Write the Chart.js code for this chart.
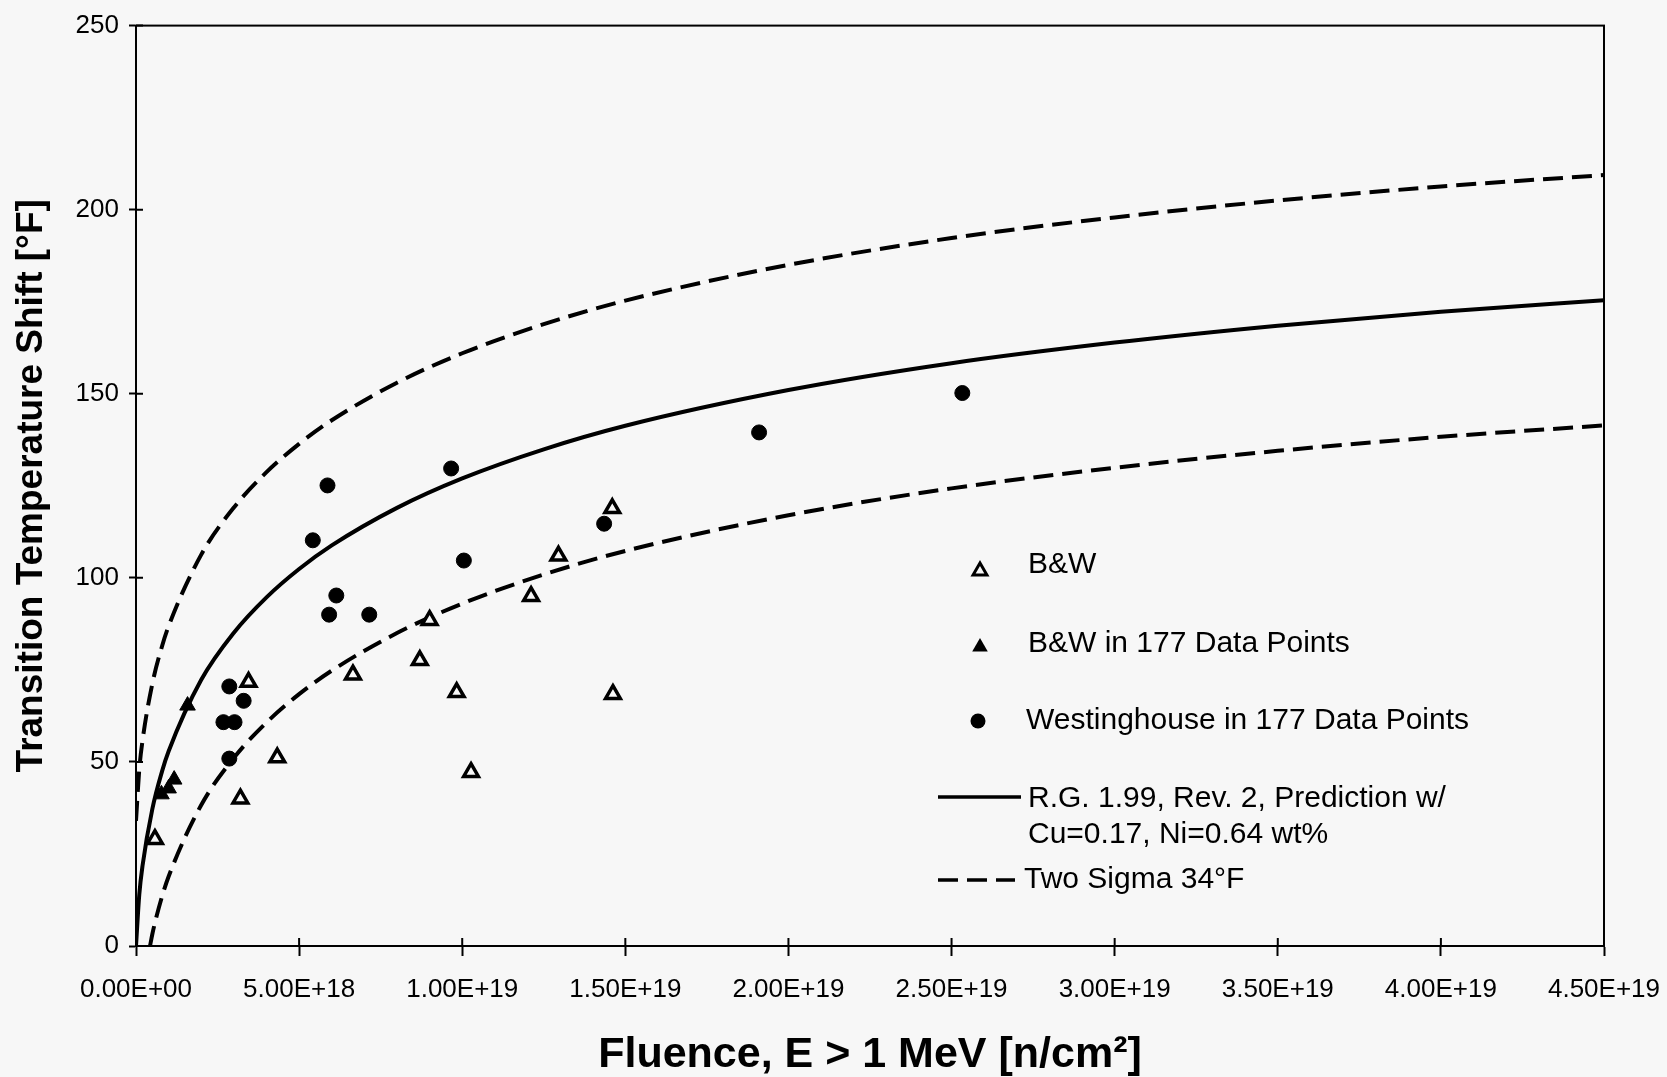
<!DOCTYPE html>
<html>
<head>
<meta charset="utf-8">
<title>Transition Temperature Shift vs Fluence</title>
<script src="https://cdn.jsdelivr.net/npm/chart.js@4.4.1/dist/chart.umd.min.js"></script>
<style>
  html, body { margin: 0; padding: 0; background: #f7f7f7; }
  #wrap { width: 1667px; height: 1077px; }
</style>
</head>
<body>
<div id="wrap"><canvas id="shiftChart" width="1667" height="1077"></canvas></div>
<script>
// fluence in units of 1E+18 n/cm^2, shift in degF
const bwFluence = [0.58, 3.2, 3.45, 4.33, 6.65, 8.7, 9.0, 9.83, 10.27, 12.11, 12.95, 14.6, 14.62];
const bwShift   = [29.0, 40.0, 71.7, 51.2, 73.7, 77.6, 88.5, 68.9, 47.2, 95.0, 106.0, 118.9, 68.4];

const bw177Fluence = [0.78, 1.0, 1.17, 1.58];
const bw177Shift   = [41.2, 42.8, 45.2, 65.3];

const westFluence = [2.68, 3.02, 2.86, 3.3, 2.86, 5.42, 5.87, 5.92, 6.14, 7.15, 9.66, 10.05, 14.35, 19.1, 25.33];
const westShift   = [60.8, 60.8, 70.5, 66.6, 50.9, 110.2, 125.1, 90.0, 95.2, 90.0, 129.7, 104.7, 114.7, 139.5, 150.2];

// RG 1.99 Rev. 2 trend and the +/- two sigma band
const curveFluence = [0, 0.1, 0.2, 0.5, 0.8, 1, 2, 3, 4, 5, 6, 8, 10, 12.5, 15, 20, 25, 30, 35, 40, 45];
const predShift    = [0, 13.9, 21.8, 37.2, 47.5, 52.9, 72.3, 85.1, 94.7, 102.4, 108.8, 119.0, 127.0, 134.9, 141.3, 151.0, 158.3, 163.9, 168.5, 172.3, 175.4];
const upperShift   = [34, 47.9, 55.8, 71.2, 81.5, 86.9, 106.3, 119.1, 128.7, 136.4, 142.8, 153.0, 161.0, 168.9, 175.3, 185.0, 192.3, 197.9, 202.5, 206.3, 209.4];
const lowerFluence = [0.43, 0.5, 0.6, 0.8, 1, 2, 3, 4, 5, 6, 8, 10, 12.5, 15, 20, 25, 30, 35, 40, 45];
const lowerShift   = [0, 3.2, 7.0, 13.5, 18.9, 38.3, 51.1, 60.7, 68.4, 74.8, 85.0, 93.0, 100.9, 107.3, 117.0, 124.3, 129.9, 134.5, 138.3, 141.4];

const seriesNames = ['B&W', 'B&W in 177 Data Points', 'Westinghouse in 177 Data Points',
  ['R.G. 1.99, Rev. 2, Prediction w/', 'Cu=0.17, Ni=0.64 wt%'], 'Two Sigma 34°F'];

const FONT = '"Liberation Sans", Arial, Helvetica, sans-serif';
const BG = '#f7f7f7';
const DASH = [20, 9];

const pts = (xs, ys) => xs.map((x, i) => ({x: x, y: ys[i]}));

// 5 -> "5.00E+18"
function sci(v) {
  if (v === 0) return '0.00E+00';
  const parts = (v * 1e18).toExponential(2).split('e');
  const e = parts[1];
  return parts[0] + 'E' + e[0] + e.slice(1).padStart(2, '0');
}

function tri(ctx, x, y, r) {
  ctx.beginPath();
  ctx.moveTo(x, y - r);
  ctx.lineTo(x + r * 0.866, y + r / 2);
  ctx.lineTo(x - r * 0.866, y + r / 2);
  ctx.closePath();
}

// page background
const paintBg = {
  id: 'paintBg',
  beforeDraw(chart) {
    const ctx = chart.ctx;
    ctx.save();
    ctx.fillStyle = BG;
    ctx.fillRect(0, 0, chart.width, chart.height);
    ctx.restore();
  }
};

// box round the plot plus tick marks on the inside of the axes
const frame = {
  id: 'frame',
  afterDatasetsDraw(chart) {
    const {ctx, chartArea: a, scales: {x, y}} = chart;
    ctx.save();
    ctx.strokeStyle = '#000';
    ctx.lineWidth = 2;
    ctx.strokeRect(a.left, a.top, a.right - a.left, a.bottom - a.top);
    ctx.beginPath();
    x.ticks.forEach(t => {
      const px = x.getPixelForValue(t.value);
      ctx.moveTo(px, a.bottom);
      ctx.lineTo(px, a.bottom - 8);
    });
    y.ticks.forEach(t => {
      const py = y.getPixelForValue(t.value);
      ctx.moveTo(a.left, py);
      ctx.lineTo(a.left + 7, py);
    });
    ctx.stroke();
    ctx.restore();
  }
};

// legend sits inside the plot, lower right
const keyBox = {
  id: 'keyBox',
  afterDraw(chart) {
    const ctx = chart.ctx;
    ctx.save();
    ctx.fillStyle = '#000';
    ctx.strokeStyle = '#000';
    ctx.font = '30px ' + FONT;
    ctx.textBaseline = 'middle';
    ctx.textAlign = 'left';

    // open triangle
    tri(ctx, 980, 571, 8);
    ctx.fillStyle = BG; ctx.fill();
    ctx.lineWidth = 3; ctx.stroke();
    ctx.fillStyle = '#000';
    ctx.fillText(seriesNames[0], 1028, 565);

    // filled triangle
    tri(ctx, 980, 647, 9);
    ctx.fill();
    ctx.fillText(seriesNames[1], 1028, 644);

    // circle
    ctx.beginPath();
    ctx.arc(978, 721, 7.5, 0, Math.PI * 2);
    ctx.fill();
    ctx.fillText(seriesNames[2], 1026, 721);

    // solid line
    ctx.lineWidth = 3.5;
    ctx.beginPath();
    ctx.moveTo(938, 797); ctx.lineTo(1021, 797);
    ctx.stroke();
    ctx.fillText(seriesNames[3][0], 1028, 799);
    ctx.fillText(seriesNames[3][1], 1028, 835);

    // dashed line
    ctx.setLineDash(DASH);
    ctx.beginPath();
    ctx.moveTo(938, 880); ctx.lineTo(1015, 880);
    ctx.stroke();
    ctx.setLineDash([]);
    ctx.fillText(seriesNames[4], 1024, 880);
    ctx.restore();
  }
};

function createChart() {
  const ctx = document.getElementById('shiftChart').getContext('2d');
  new Chart(ctx, {
    type: 'scatter',
    data: {
      datasets: [
        {
          label: seriesNames[0],
          data: pts(bwFluence, bwShift),
          pointStyle: 'triangle',
          pointRadius: 8.5,
          backgroundColor: BG,
          borderColor: '#000',
          borderWidth: 3.5
        },
        {
          label: seriesNames[1],
          data: pts(bw177Fluence, bw177Shift),
          pointStyle: 'triangle',
          pointRadius: 9,
          backgroundColor: '#000',
          borderColor: '#000',
          borderWidth: 1
        },
        {
          label: seriesNames[2],
          data: pts(westFluence, westShift),
          pointStyle: 'circle',
          pointRadius: 7.5,
          backgroundColor: '#000',
          borderColor: '#000',
          borderWidth: 1
        },
        {
          label: seriesNames[3].join(' '),
          data: pts(curveFluence, predShift),
          showLine: true,
          pointRadius: 0,
          borderColor: '#000',
          borderWidth: 4,
          cubicInterpolationMode: 'monotone'
        },
        {
          label: seriesNames[4],
          data: pts(curveFluence, upperShift),
          showLine: true,
          pointRadius: 0,
          borderColor: '#000',
          borderWidth: 4,
          borderDash: DASH,
          cubicInterpolationMode: 'monotone'
        },
        {
          label: seriesNames[4] + ' (lower)',
          data: pts(lowerFluence, lowerShift),
          showLine: true,
          pointRadius: 0,
          borderColor: '#000',
          borderWidth: 4,
          borderDash: DASH,
          cubicInterpolationMode: 'monotone'
        }
      ]
    },
    options: {
      responsive: false,
      animation: false,
      layout: {padding: {top: 22, right: 63, left: 0, bottom: 0}},
      plugins: {legend: {display: false}, tooltip: {enabled: false}},
      scales: {
        x: {
          type: 'linear',
          min: 0,
          max: 45,
          ticks: {
            stepSize: 5,
            autoSkip: false,
            maxRotation: 0,
            padding: 18,
            color: '#000',
            font: {family: FONT, size: 26},
            callback: v => sci(v)
          },
          grid: {drawOnChartArea: false, tickLength: 10, tickColor: '#000', tickWidth: 2},
          border: {display: true, color: '#000', width: 2},
          title: {
            display: true,
            text: 'Fluence, E > 1 MeV [n/cm²]',
            color: '#000',
            font: {family: FONT, size: 43, weight: 'bold', lineHeight: 1},
            padding: {top: 0, bottom: 0}
          },
          // last tick label may run into the page margin
          afterFit(scale) { scale.height = 131; scale.paddingRight = 0; }
        },
        y: {
          min: 0,
          max: 250,
          ticks: {
            stepSize: 50,
            padding: 10,
            color: '#000',
            font: {family: FONT, size: 26}
          },
          grid: {drawOnChartArea: false, tickLength: 7, tickColor: '#000', tickWidth: 2},
          border: {display: true, color: '#000', width: 2},
          title: {
            display: true,
            text: 'Transition Temperature Shift [°F]',
            color: '#000',
            font: {family: FONT, size: 37, weight: 'bold', lineHeight: 1},
            padding: {top: 13, bottom: 0}
          },
          afterFit(scale) { scale.width = 136; }
        }
      }
    },
    plugins: [paintBg, frame, keyBox]
  });
}

if (document.readyState === 'loading') {
  document.addEventListener('DOMContentLoaded', createChart);
} else {
  createChart();
}
</script>
</body>
</html>
